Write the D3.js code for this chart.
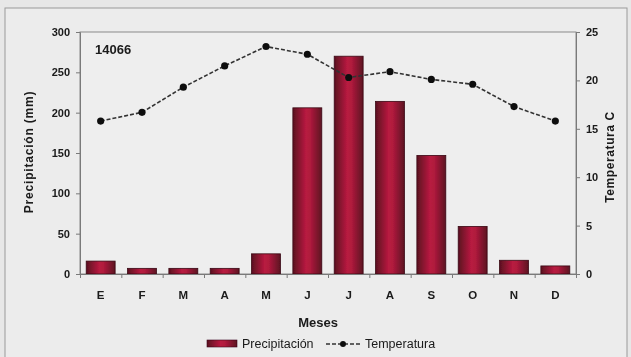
<!DOCTYPE html>
<html>
<head>
<meta charset="utf-8">
<script src="https://cdn.jsdelivr.net/npm/d3@7/dist/d3.min.js"></script>
<style>
  html, body { margin: 0; padding: 0; background: #e7e7e7; }
  svg { display: block; }
  text { font-family: "Liberation Sans", Arial, sans-serif; fill: #1a1a1a; }
</style>
</head>
<body>
<svg id="chart" width="631" height="357"></svg>
<script>
// Monthly climate data for station 14066
const months = ["E", "F", "M", "A", "M", "J", "J", "A", "S", "O", "N", "D"];
const precipitation = [16, 7, 7, 7, 25, 206, 270, 214, 147, 59, 17, 10];
const temperature = [15.8, 16.7, 19.3, 21.5, 23.5, 22.7, 20.3, 20.9, 20.1, 19.6, 17.3, 15.8];
const precipTicks = [0, 50, 100, 150, 200, 250, 300];
const tempTicks = [0, 5, 10, 15, 20, 25];

const svg = d3.select("#chart");
const W = 631, H = 357;
const m = { left: 80, right: 55, top: 32, bottom: 83 };
const iw = W - m.left - m.right, ih = H - m.top - m.bottom;

const defs = svg.append("defs");
const grad = defs.append("linearGradient").attr("id", "barGrad")
  .attr("x1", "0%").attr("x2", "100%").attr("y1", "0%").attr("y2", "0%");
grad.append("stop").attr("offset", "0%").attr("stop-color", "#5a1020");
grad.append("stop").attr("offset", "45%").attr("stop-color", "#b81a40");
grad.append("stop").attr("offset", "60%").attr("stop-color", "#b01a3d");
grad.append("stop").attr("offset", "100%").attr("stop-color", "#5c1122");

const soft = defs.append("filter").attr("id", "soft");
soft.append("feGaussianBlur").attr("stdDeviation", 0.45);

// Outer chart frame
svg.append("rect").attr("x", 0).attr("y", 0).attr("width", W).attr("height", H).attr("fill", "#e7e7e7");
svg.append("rect").attr("x", 5).attr("y", 8).attr("width", 622).attr("height", 360)
  .attr("fill", "#ececec").attr("stroke", "#9a9a9a").attr("stroke-width", 1);

const g = svg.append("g").attr("transform", `translate(${m.left},${m.top})`).attr("filter", "url(#soft)");

const x = d3.scaleBand().domain(d3.range(months.length)).range([0, iw]).paddingInner(0.3).paddingOuter(0.15);
const yP = d3.scaleLinear().domain([0, 300]).range([ih, 0]);
const yT = d3.scaleLinear().domain([0, 25]).range([ih, 0]);

// Plot area frame
g.append("rect").attr("x", 0).attr("y", 0).attr("width", iw).attr("height", ih)
  .attr("fill", "#eeeeee").attr("stroke", "#8a8a8a").attr("stroke-width", 1);

// Bars
g.selectAll("rect.bar").data(precipitation).join("rect").attr("class", "bar")
  .attr("x", (d, i) => x(i)).attr("width", x.bandwidth())
  .attr("y", d => yP(d)).attr("height", d => ih - yP(d))
  .attr("fill", "url(#barGrad)").attr("stroke", "#3a0a14").attr("stroke-width", 0.8);

// Axes
const axL = g.append("g").call(d3.axisLeft(yP).tickValues(precipTicks).tickSize(4).tickPadding(6));
const axR = g.append("g").attr("transform", `translate(${iw},0)`)
  .call(d3.axisRight(yT).tickValues(tempTicks).tickSize(4).tickPadding(6));
const xb = d3.scaleLinear().domain([0, months.length]).range([0, iw]);
const axB = g.append("g").attr("transform", `translate(0,${ih})`)
  .call(d3.axisBottom(xb).tickValues(d3.range(months.length + 1)).tickSize(4).tickFormat(""));
[axL, axR, axB].forEach(a => {
  a.selectAll("path, line").attr("stroke", "#7a7a7a");
  a.selectAll("text").attr("font-size", 11).attr("font-weight", "bold").attr("fill", "#222");
});

// Month labels
g.append("g").selectAll("text").data(months).join("text")
  .attr("x", (d, i) => x(i) + x.bandwidth() / 2).attr("y", ih + 25)
  .attr("text-anchor", "middle").attr("font-size", 11.5).attr("font-weight", "bold").text(d => d);

// Temperature line
const line = d3.line().x((d, i) => x(i) + x.bandwidth() / 2).y(d => yT(d));
g.append("path").datum(temperature).attr("d", line)
  .attr("fill", "none").attr("stroke", "#333").attr("stroke-width", 1.6).attr("stroke-dasharray", "4,2");
g.selectAll("circle.pt").data(temperature).join("circle").attr("class", "pt")
  .attr("cx", (d, i) => x(i) + x.bandwidth() / 2).attr("cy", d => yT(d)).attr("r", 3.6).attr("fill", "#111");

// Station label
g.append("text").attr("x", 15).attr("y", 22).attr("font-size", 13).attr("font-weight", "bold").text("14066");

// Axis titles
svg.append("text").attr("transform", `translate(33,152) rotate(-90)`).attr("text-anchor", "middle")
  .attr("font-size", 12).attr("letter-spacing", 0.8).attr("font-weight", "bold").attr("filter", "url(#soft)")
  .text("Precipitación (mm)");
svg.append("text").attr("transform", `translate(614,157) rotate(-90)`).attr("text-anchor", "middle")
  .attr("font-size", 12).attr("letter-spacing", 0.6).attr("font-weight", "bold").attr("filter", "url(#soft)")
  .text("Temperatura   C");
svg.append("text").attr("x", 318).attr("y", 327).attr("text-anchor", "middle")
  .attr("font-size", 13).attr("font-weight", "bold").attr("filter", "url(#soft)").text("Meses");

// Legend
const lg = svg.append("g").attr("filter", "url(#soft)");
lg.append("rect").attr("x", 207).attr("y", 340).attr("width", 30).attr("height", 7)
  .attr("fill", "url(#barGrad)").attr("stroke", "#3a0a14").attr("stroke-width", 0.6);
lg.append("text").attr("x", 242).attr("y", 348).attr("font-size", 12.5).text("Precipitación");
lg.append("line").attr("x1", 326).attr("x2", 362).attr("y1", 344).attr("y2", 344)
  .attr("stroke", "#333").attr("stroke-width", 1.4).attr("stroke-dasharray", "4,2");
lg.append("circle").attr("cx", 343).attr("cy", 344).attr("r", 3).attr("fill", "#111");
lg.append("text").attr("x", 365).attr("y", 348).attr("font-size", 12.5).text("Temperatura");
</script>
</body>
</html>
